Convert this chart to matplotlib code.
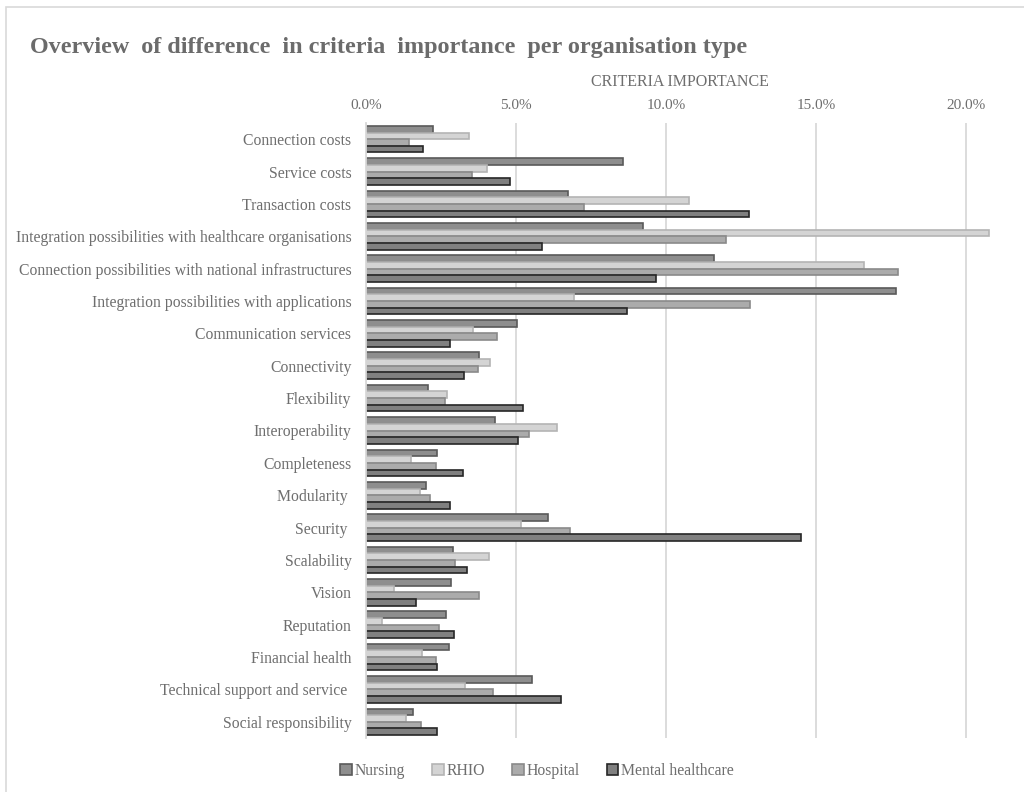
import matplotlib.pyplot as plt
import matplotlib.patches as mpatches
import numpy as np
from matplotlib.ticker import PercentFormatter

criteria = ['Connection costs', 'Service costs', 'Transaction costs',
            'Integration possibilities with healthcare organisations',
            'Connection possibilities with national infrastructures',
            'Integration possibilities with applications',
            'Communication services', 'Connectivity', 'Flexibility',
            'Interoperability', 'Completeness', 'Modularity ', 'Security ',
            'Scalability', 'Vision', 'Reputation', 'Financial health',
            'Technical support and service ', 'Social responsibility']

# importance per criterion (%)
nursing = [2.24, 8.56, 6.72, 9.22, 11.60, 17.68, 5.03, 3.76, 2.06, 4.30,
           2.38, 1.99, 6.06, 2.91, 2.82, 2.67, 2.77, 5.52, 1.57]
rhio = [3.43, 4.02, 10.78, 20.77, 16.60, 6.92, 3.58, 4.13, 2.71, 6.38,
        1.49, 1.80, 5.17, 4.11, 0.93, 0.54, 1.88, 3.30, 1.32]
hospital = [1.44, 3.52, 7.28, 12.01, 17.73, 12.80, 4.38, 3.74, 2.63, 5.42,
            2.32, 2.12, 6.80, 2.97, 3.77, 2.43, 2.32, 4.22, 1.84]
mental = [1.90, 4.80, 12.78, 5.86, 9.67, 8.69, 2.79, 3.26, 5.24, 5.06,
          3.24, 2.79, 14.49, 3.38, 1.68, 2.93, 2.38, 6.51, 2.36]

series = [('Nursing', nursing, '#8e8e8e', '#5a5a5a'),
          ('RHIO', rhio, '#d4d4d4', '#b4b4b4'),
          ('Hospital', hospital, '#ababab', '#8a8a8a'),
          ('Mental healthcare', mental, '#808080', '#262626')]

plt.rcParams['font.family'] = ['Liberation Serif', 'DejaVu Serif']
txt = '#6e6e6e'

fig = plt.figure(figsize=(10.24, 7.92), dpi=100)
# outer chart border
fig.patches.append(mpatches.Rectangle((6 / 1024, -0.01), 1.02, 1 - 7 / 792 + 0.01,
                                      transform=fig.transFigure, fill=False,
                                      edgecolor='#d9d9d9', linewidth=1.2))

ax = fig.add_axes([366 / 1024, 1 - 738 / 792, (994 - 366) / 1024, (738 - 123) / 792])

y = np.arange(len(criteria))
h = 0.205
for i, (name, vals, fc, ec) in enumerate(series):
    ax.barh(y - 1.5 * h + i * h, np.array(vals) / 100, height=h, color=fc,
            edgecolor=ec, linewidth=1.2, label=name)

ax.set_ylim(len(criteria) - 0.5, -0.5)
ax.set_xlim(0, 0.2093)
ax.set_xticks([0, 0.05, 0.10, 0.15, 0.20])
ax.xaxis.set_major_formatter(PercentFormatter(1.0, decimals=1))
ax.xaxis.tick_top()
ax.xaxis.set_label_position('top')
ax.set_xlabel('CRITERIA IMPORTANCE', color=txt, fontsize=11.5, labelpad=9)
ax.set_yticks(y)
ax.set_yticklabels(criteria)
ax.tick_params(axis='x', length=0, colors=txt, labelsize=11, pad=8)
ax.tick_params(axis='y', length=0, colors=txt, labelsize=11.3, pad=10.5)
ax.grid(axis='x', color='#d9d9d9', linewidth=1.3)
ax.set_axisbelow(True)
for s in ['top', 'right', 'bottom']:
    ax.spines[s].set_visible(False)
ax.spines['left'].set_color('#d9d9d9')
ax.spines['left'].set_linewidth(1.3)

fig.text(30 / 1024, 1 - 48 / 792, 'Overview  of difference  in criteria  importance  per organisation type',
         fontsize=17.4, fontweight='bold', color='#6b6b6b', va='center', ha='left')

handles = [mpatches.Patch(facecolor=fc, edgecolor=ec, linewidth=1.2, label=name)
           for name, vals, fc, ec in series]
fig.legend(handles=handles, loc='center', bbox_to_anchor=(537 / 1024, 1 - 771 / 792),
           ncol=4, frameon=False, fontsize=11.3, labelcolor=txt,
           handlelength=0.75, handleheight=0.75, handletextpad=0.2, columnspacing=1.7)

fig.savefig('out.png', dpi=100)
